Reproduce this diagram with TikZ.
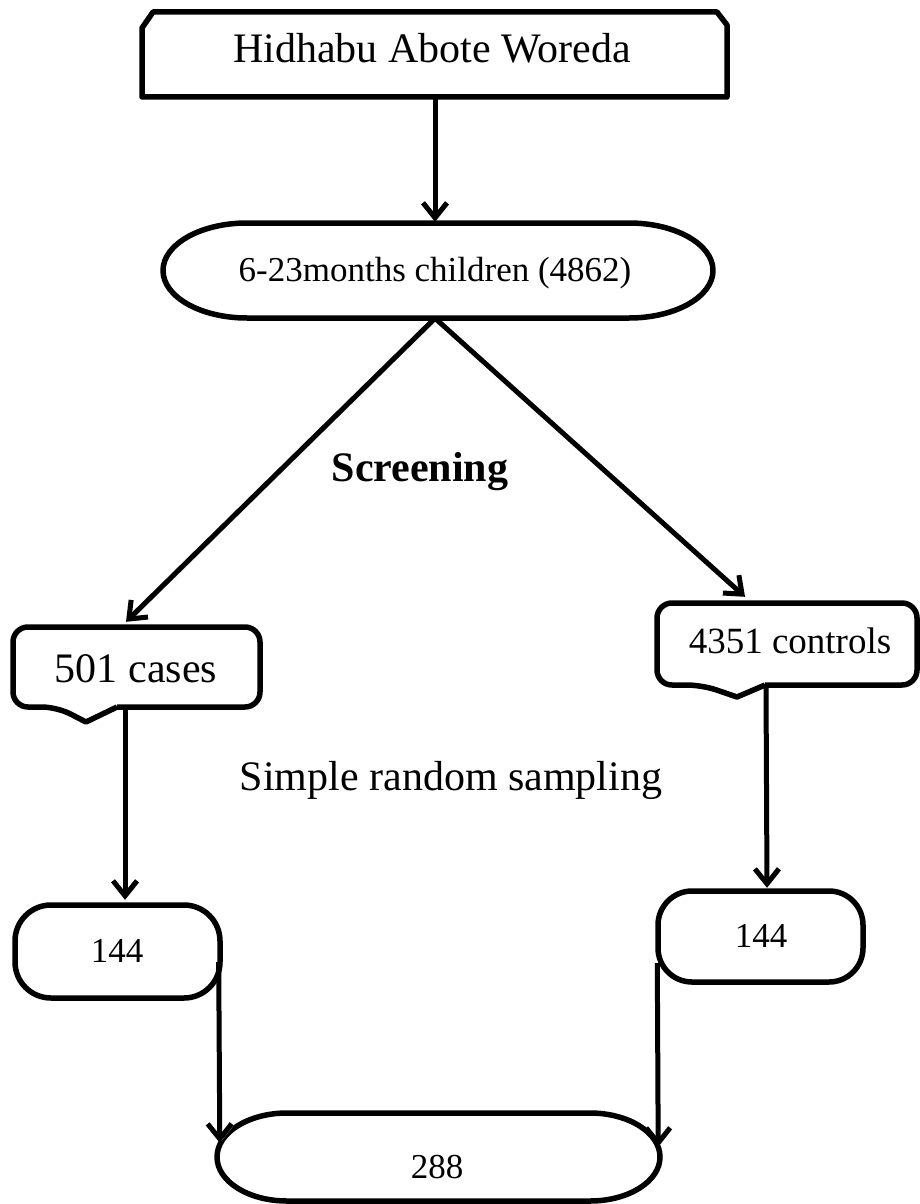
\documentclass[tikz,border=0pt]{standalone}
\usepackage{fontspec}
\setmainfont{Liberation Serif}
\usetikzlibrary{arrows.meta,calc}
\tikzset{
  box/.style={draw=none, inner sep=0pt},
  outline/.style={draw=black, line width=5.5pt, line join=round},
  lbl/.style={inner sep=0pt, anchor=base},
  arr/.style={line width=5pt, -{Straight Barb[length=15pt,width=24pt,line width=5pt]},
     preaction={draw=gray!65, transform canvas={shift={(1.8pt,-1.8pt)}}}},
}
\begin{document}
\begin{tikzpicture}[x=1pt,y=-1pt]
\useasboundingbox (0,0) rectangle (919,1204);
\fill[white] (0,0) rectangle (919,1204);

% shape nodes (boundaries)
\node[box, minimum width=585pt, minimum height=85pt] (top) at (434.5,54.5) {};
\node[box, minimum width=550pt, minimum height=95pt] (pop) at (438,270.5) {};
\node[box, minimum width=247pt, minimum height=80pt] (cases) at (136.5,667) {};
\node[box, minimum width=260pt, minimum height=82pt] (ctrl) at (787,644) {};
\node[box, minimum width=205pt, minimum height=93pt] (lsel) at (117.5,951.5) {};
\node[box, minimum width=205pt, minimum height=91pt] (rsel) at (760.5,936.5) {};
\node[box, minimum width=443pt, minimum height=88pt] (tot) at (438.5,1157) {};

% outlines
\draw[outline] (142,28) -- (153,12) -- (717,12) -- (727,25) -- (727,97) -- (142,97) -- cycle;
\draw[outline] (247,223) -- (629,223)
   arc[start angle=90, end angle=-90, x radius=84pt, y radius=47.5pt]
   -- (247,318)
   arc[start angle=270, end angle=90, x radius=84pt, y radius=47.5pt] -- cycle;
\draw[outline, rounded corners=15pt] (117,707) -- (260,707) -- (260,627) -- (13,627) -- (13,707) -- (57,707)
   [sharp corners] -- (86,722) -- (117,707);
\draw[outline, rounded corners=15pt] (765,685) -- (917,685) -- (917,603) -- (657,603) -- (657,685) -- (702,685)
   [sharp corners] -- (737,697) -- (765,685);
\draw[outline, rounded corners=36pt] (15,905) rectangle (220,998);
\draw[outline, rounded corners=34pt] (658,891) rectangle (863,982);
\draw[outline] (287,1113) -- (590,1113)
   arc[start angle=90, end angle=-90, x radius=70pt, y radius=44pt]
   -- (287,1201)
   arc[start angle=270, end angle=90, x radius=70pt, y radius=44pt] -- cycle;

% texts
\node[lbl, font=\fontsize{42}{50}\selectfont] (ttop) at (432,63) {Hidhabu Abote Woreda};
\node[lbl, font=\fontsize{35}{42}\selectfont] (tpop) at (435,281) {6-23months children (4862)};
\node[lbl, font=\fontsize{42}{50}\selectfont\bfseries] (tscr) at (420,481) {Screening};
\node[lbl, font=\fontsize{42}{50}\selectfont] (tcases) at (136,682) {501 cases};
\node[lbl, font=\fontsize{37}{44}\selectfont] (tctrl) at (790,653) {4351 controls};
\node[lbl, font=\fontsize{42}{50}\selectfont] (tsrs) at (451,790) {Simple random sampling};
\node[lbl, font=\fontsize{35}{42}\selectfont] (tl) at (117,962) {144};
\node[lbl, font=\fontsize{35}{42}\selectfont] (tr) at (761,947) {144};
\node[lbl, font=\fontsize{35}{42}\selectfont] (ttot) at (437,1178) {288};

% connectors
\draw[arr] ([xshift=0.5pt]top.south) -- ([xshift=-3pt,yshift=1pt]pop.north);
\draw[arr] ([xshift=-3pt]pop.south) -- ([xshift=-10.5pt,yshift=5pt]cases.north);
\draw[arr] ([xshift=-3pt]pop.south) -- ([xshift=-42pt,yshift=6pt]ctrl.north);
\draw[arr] ([xshift=-11.5pt]cases.south) -- ([xshift=7.5pt,yshift=5pt]lsel.north);
\draw[arr] ([xshift=-21pt]ctrl.south) -- ([xshift=6.5pt,yshift=3pt]rsel.north);
\draw[arr] ([xshift=-1.5pt,yshift=-10.5pt]lsel.east) -- ([xshift=3pt,yshift=-30pt]tot.north west);
\draw[arr] ([xshift=-0.5pt,yshift=-26.5pt]rsel.west) -- ([xshift=-2pt,yshift=-34pt]tot.north east);
\end{tikzpicture}
\end{document}
